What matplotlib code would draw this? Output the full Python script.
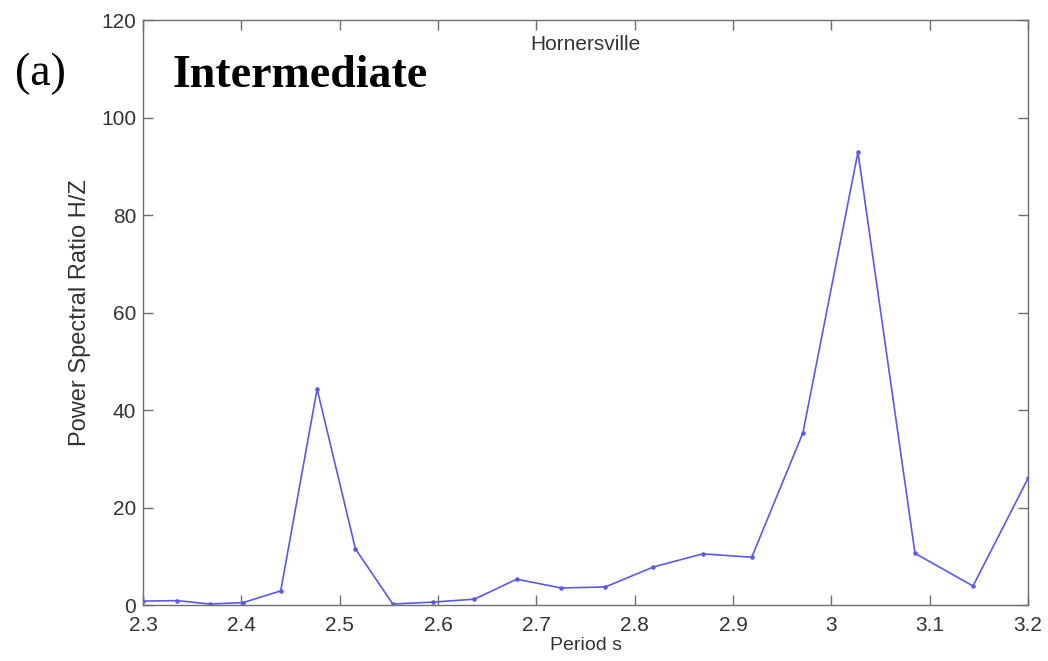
# H/Z power spectral ratio vs period, Hornersville
import matplotlib
matplotlib.use('Agg')
import matplotlib.pyplot as plt

# data
periods = [2.300, 2.335, 2.368, 2.402, 2.440, 2.477, 2.516, 2.554, 2.595, 2.637,
           2.680, 2.725, 2.770, 2.819, 2.869, 2.919, 2.971, 3.027, 3.085, 3.144, 3.200]
ratios = [0.8, 0.9, 0.2, 0.5, 2.9, 44.3, 11.5, 0.2, 0.6, 1.2,
          5.3, 3.5, 3.7, 7.8, 10.5, 9.8, 35.3, 92.9, 10.6, 3.9, 26.0]
xTicks = [2.3, 2.4, 2.5, 2.6, 2.7, 2.8, 2.9, 3.0, 3.1, 3.2]
xTickLabels = ['2.3', '2.4', '2.5', '2.6', '2.7', '2.8', '2.9', '3', '3.1', '3.2']
yTicks = [0, 20, 40, 60, 80, 100, 120]

sansFamily = ['Liberation Sans Narrow', 'Liberation Sans', 'DejaVu Sans']
serifFamily = ['Liberation Serif', 'DejaVu Serif']
axisGray = '#6e6e6e'

fig = plt.figure(figsize=(10.48, 6.61), dpi=100)
ax = fig.add_axes([0.1365, 0.0847, 0.8445, 0.885])

ax.plot(periods, ratios, color='#5a5ae6', linewidth=1.2, marker='.', markersize=4.5)

ax.set_xlim(2.3, 3.2)
ax.set_ylim(0, 120)
ax.set_xticks(xTicks)
ax.set_xticklabels(xTickLabels)
ax.set_yticks(yTicks)

for spine in ax.spines.values():
    spine.set_color(axisGray)
    spine.set_linewidth(1.0)
ax.tick_params(direction='in', length=7, width=1, color=axisGray,
               top=True, right=True, labelsize=15, labelcolor='#333333')
ax.tick_params(axis='x', pad=8)
ax.tick_params(axis='y', pad=5)
for label in ax.get_xticklabels() + ax.get_yticklabels():
    label.set_family(sansFamily)

ax.set_xlabel('Period s', family=sansFamily, fontsize=14, color='#333333', labelpad=1)
ax.set_ylabel('Power Spectral Ratio H/Z', family=sansFamily, fontsize=17,
              color='#333333', labelpad=7)

ax.text(0.5, 0.959, 'Hornersville', transform=ax.transAxes, ha='center', va='center',
        family=sansFamily, fontsize=15, color='#333333')
ax.text(0.033, 0.885, 'Intermediate', transform=ax.transAxes, ha='left', va='baseline',
        family=serifFamily, fontsize=33, fontweight='bold', color='black')
fig.text(0.0143, 0.871, '(a)', ha='left', va='baseline',
         family=serifFamily, fontsize=33, color='black')

fig.savefig('out.png', dpi=100)
